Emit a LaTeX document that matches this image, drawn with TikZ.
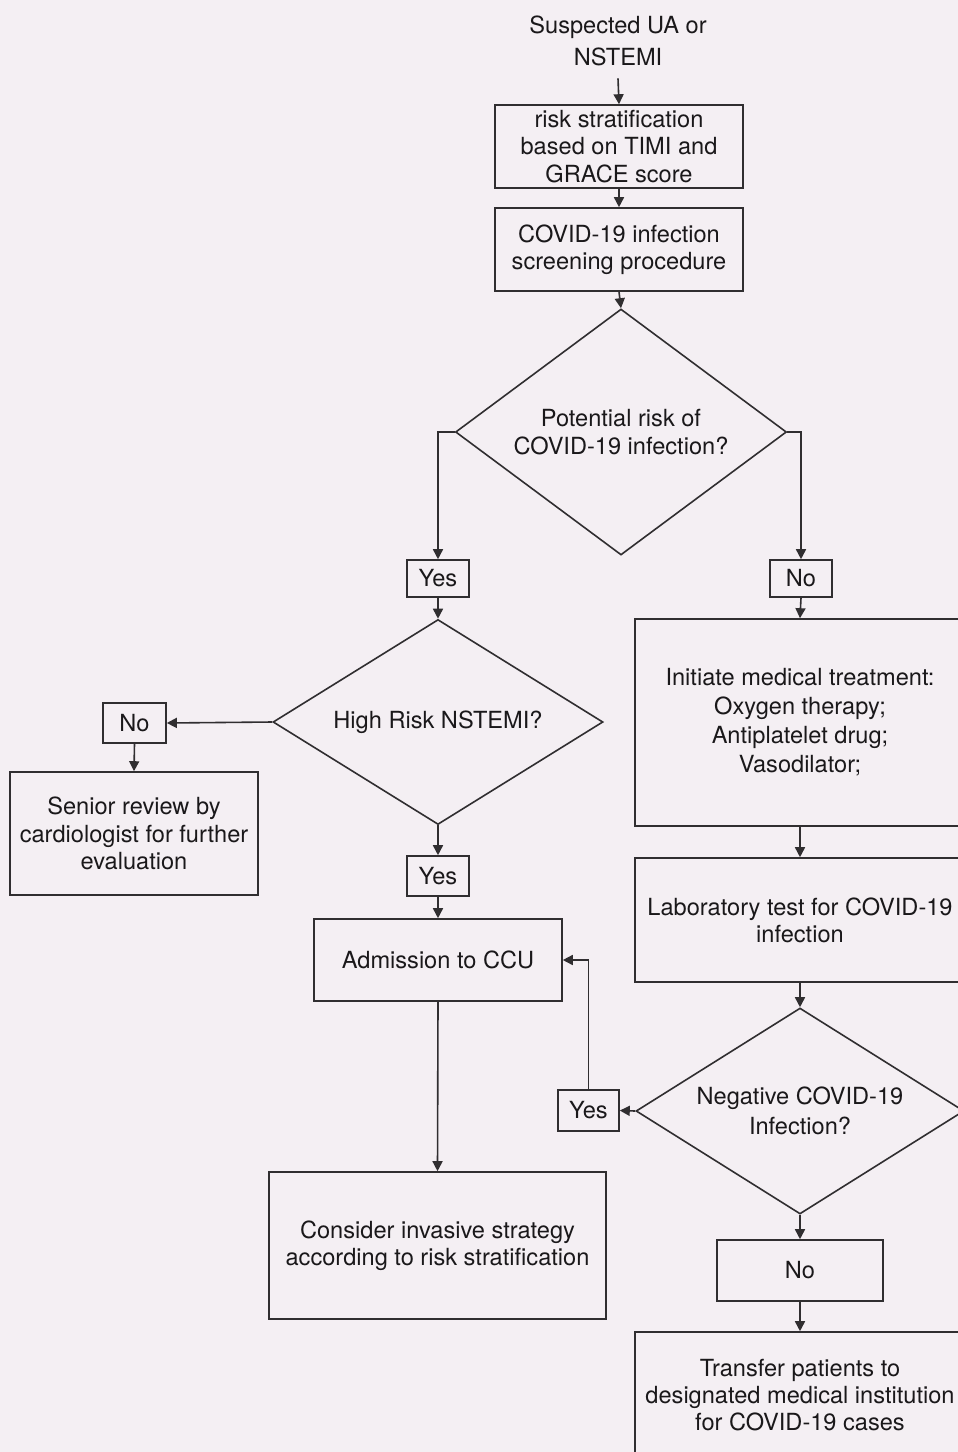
\documentclass[tikz,border=0pt]{standalone}
\usepackage{fontspec}
\setmainfont{TeX Gyre Heros}
\usetikzlibrary{shapes.geometric, arrows.meta}
\definecolor{bgpaper}{RGB}{244,239,243}
\definecolor{inkline}{RGB}{48,46,48}
\definecolor{inktext}{RGB}{26,24,26}
\begin{document}
\begin{tikzpicture}[x=1pt, y=1pt,
  every node/.style={font=\fontsize{11.8}{13.6}\selectfont, text=inktext, align=center},
  stepbox/.style={draw=inkline, line width=0.8pt, inner sep=2pt},
  decision/.style={diamond, draw=inkline, line width=0.8pt, inner sep=0pt},
  flow/.style={draw=inkline, line width=0.8pt, -{Triangle[length=5pt,width=5pt]}}]

\clip (0,0) rectangle (479,-726);
\fill[bgpaper] (0,0) rectangle (479,-726);

% main column
\node[inner sep=6pt] (start) at (309,-20.5) {Suspected UA or\\[2.4pt]NSTEMI};
\node[stepbox, minimum width=124pt, minimum height=41.5pt] (risk) at (309.5,-73.25) {risk stratification\\based on TIMI and\\GRACE score};
\node[stepbox, minimum width=124pt, minimum height=41.5pt] (screen) at (309.5,-124.75) {COVID-19 infection\\screening procedure};
\node[decision, aspect=1.35, minimum width=165.5pt, minimum height=123pt] (risk1) at (310.5,-216) {Potential risk of\\COVID-19 infection?};

% left branch
\node[stepbox, minimum width=31pt, minimum height=18.5pt] (yesA) at (219,-289.25) {Yes};
\node[decision, aspect=1.6, minimum width=165pt, minimum height=102.5pt] (high) at (219,-361) {High Risk NSTEMI?};
\node[stepbox, minimum width=31.5pt, minimum height=20pt] (noB) at (67.25,-361.5) {No};
\node[stepbox, minimum width=124pt, minimum height=61.5pt] (senior) at (67,-416.75) {Senior review by\\cardiologist for further\\evaluation};
\node[stepbox, minimum width=31pt, minimum height=20pt] (yesB) at (219,-438) {Yes};
\node[stepbox, minimum width=124pt, minimum height=41pt] (ccu) at (219,-480) {Admission to CCU};
\node[stepbox, minimum width=168.5pt, minimum height=73.5pt] (invasive) at (218.75,-622.75) {Consider invasive strategy\\according to risk stratification};

% right branch
\node[stepbox, minimum width=31pt, minimum height=18.5pt] (noA) at (400.5,-289.25) {No};
\node[stepbox, minimum width=165pt, minimum height=103.5pt] (treat) at (400,-361.25) {Initiate medical treatment:\\[0.9pt]Oxygen therapy;\\[0.9pt]Antiplatelet drug;\\[0.9pt]Vasodilator;};
\node[stepbox, minimum width=165pt, minimum height=62pt] (lab) at (400,-460) {Laboratory test for COVID-19\\infection};
\node[decision, aspect=1.6, minimum width=164pt, minimum height=103pt] (neg) at (400,-555.5) {Negative COVID-19\\[1.4pt]Infection?};
\node[stepbox, minimum width=30.5pt, minimum height=20.5pt] (yesC) at (294.25,-555.25) {Yes};
\node[stepbox, minimum width=83pt, minimum height=30.5pt] (noC) at (400,-635.25) {No};
\node[stepbox, minimum width=165pt, minimum height=63pt] (transfer) at (400,-697.5) {Transfer patients to\\designated medical institution\\for COVID-19 cases};

\draw[flow] (start.south) -- (risk.north);
\draw[flow] (risk.south) -- (screen.north);
\draw[flow] (screen.south) -- (risk1.north);
\draw[flow] (risk1.west) -| (yesA.north);
\draw[flow] (risk1.east) -| (noA.north);
\draw[flow] (yesA.south) -- (high.north);
\draw[flow] (high.west) -- (noB.east);
\draw[flow] (noB.south) -- (senior.north);
\draw[flow] (high.south) -- (yesB.north);
\draw[flow] (yesB.south) -- (ccu.north);
\draw[flow] (ccu.south) -- (invasive.north);
\draw[flow] (noA.south) -- (treat.north);
\draw[flow] (treat.south) -- (lab.north);
\draw[flow] (lab.south) -- (neg.north);
\draw[flow] (neg.west) -- (yesC.east);
\draw[flow] (yesC.north) |- (ccu.east);
\draw[flow] (neg.south) -- (noC.north);
\draw[flow] (noC.south) -- (transfer.north);

\end{tikzpicture}
\end{document}
